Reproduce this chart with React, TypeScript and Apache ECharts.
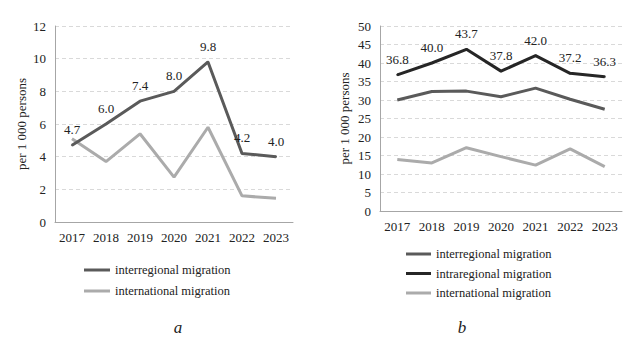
import React, { useEffect, useRef } from "react";
import * as echarts from "echarts";

const years = ["2017", "2018", "2019", "2020", "2021", "2022", "2023"];

// Panel a
const aInterregional = [4.7, 6.0, 7.4, 8.0, 9.8, 4.2, 4.0];
const aInternational = [5.1, 3.7, 5.4, 2.75, 5.8, 1.6, 1.45];

// Panel b
const bInterregional = [30.0, 32.3, 32.4, 30.9, 33.2, 30.2, 27.5];
const bIntraregional = [36.8, 40.0, 43.7, 37.8, 42.0, 37.2, 36.3];
const bInternational = [13.9, 13.0, 17.1, 14.7, 12.4, 16.8, 12.0];

const FONT = "'Liberation Serif', 'Times New Roman', serif";
const TXT = "#222";
const C_INTER = "#5a5a5a";
const C_INTRA = "#262626";
const C_INTL = "#ababab";

export default function App() {
  const ref = useRef<HTMLDivElement>(null);
  useEffect(() => {
    if (!ref.current) return;
    const chart = echarts.init(ref.current, undefined, { renderer: "svg" });
    const axisX = (gridIndex: number) => ({
      type: "category",
      gridIndex,
      data: years,
      boundaryGap: true,
      axisLine: { lineStyle: { color: "#a6a6a6", width: 1 } },
      axisTick: { show: false },
      axisLabel: { color: TXT, fontFamily: FONT, fontSize: 13, margin: 9 },
    });
    const axisY = (gridIndex: number, max: number, interval: number, nameGap: number) => ({
      type: "value",
      gridIndex,
      min: 0,
      max,
      interval,
      name: "per 1 000 persons",
      nameLocation: "middle",
      nameGap,
      nameTextStyle: { color: TXT, fontFamily: FONT, fontSize: 13 },
      axisLine: { show: true, lineStyle: { color: "#a6a6a6", width: 1 } },
      axisTick: { show: false },
      axisLabel: { color: TXT, fontFamily: FONT, fontSize: 13, margin: 9 },
      splitLine: { show: true, lineStyle: { color: "#d9d9d9", type: [4, 3], width: 1 } },
    });
    const lineSeries = (
      name: string,
      data: number[],
      color: string,
      idx: number,
      labels: boolean
    ) => ({
      type: "line",
      name,
      data,
      xAxisIndex: idx,
      yAxisIndex: idx,
      symbol: labels ? "circle" : "none",
      symbolSize: 2,
      showSymbol: labels,
      lineStyle: { color, width: 3 },
      itemStyle: { color },
      label: labels
        ? {
            show: true,
            position: "top",
            distance: 8,
            color: TXT,
            fontFamily: FONT,
            fontSize: 13,
            formatter: (p: any) => Number(p.value).toFixed(1),
          }
        : { show: false },
    });
    const legendText = { color: TXT, fontFamily: FONT, fontSize: 12.5, lineHeight: 14 };
    chart.setOption({
      animation: false,
      backgroundColor: "#fff",
      textStyle: { fontFamily: FONT },
      grid: [
        { left: 55, top: 26, width: 238, height: 196 },
        { left: 380, top: 26, width: 242, height: 185 },
      ],
      xAxis: [axisX(0), axisX(1)],
      yAxis: [axisY(0, 12, 2, 27), axisY(1, 50, 5, 29)],
      legend: [
        {
          orient: "vertical",
          left: 84,
          top: 263,
          padding: 0,
          itemGap: 7,
          itemWidth: 26,
          itemHeight: 3,
          icon: "rect",
          textStyle: legendText,
          data: ["interregional migration", "international migration"],
        },
        {
          orient: "vertical",
          left: 406,
          top: 247,
          padding: 0,
          itemGap: 5.5,
          itemWidth: 25,
          itemHeight: 3,
          icon: "rect",
          textStyle: legendText,
          data: ["interregional migration", "intraregional migration", "international migration"],
        },
      ],
      series: [
        lineSeries("international migration", aInternational, C_INTL, 0, false),
        lineSeries("interregional migration", aInterregional, C_INTER, 0, true),
        lineSeries("interregional migration", bInterregional, C_INTER, 1, false),
        lineSeries("intraregional migration", bIntraregional, C_INTRA, 1, true),
        lineSeries("international migration", bInternational, C_INTL, 1, false),
      ],
      graphic: [
        {
          type: "text",
          x: 178,
          y: 327,
          style: {
            text: "a",
            fontFamily: FONT,
            fontStyle: "italic",
            fontSize: 17,
            fill: TXT,
            align: "center",
            verticalAlign: "middle",
          },
        },
        {
          type: "text",
          x: 462,
          y: 327,
          style: {
            text: "b",
            fontFamily: FONT,
            fontStyle: "italic",
            fontSize: 17,
            fill: TXT,
            align: "center",
            verticalAlign: "middle",
          },
        },
      ],
    });
    return () => chart.dispose();
  }, []);
  return (
    <div
      ref={ref}
      style={{ position: "fixed", left: 0, top: 0, width: 631, height: 350 }}
    />
  );
}
